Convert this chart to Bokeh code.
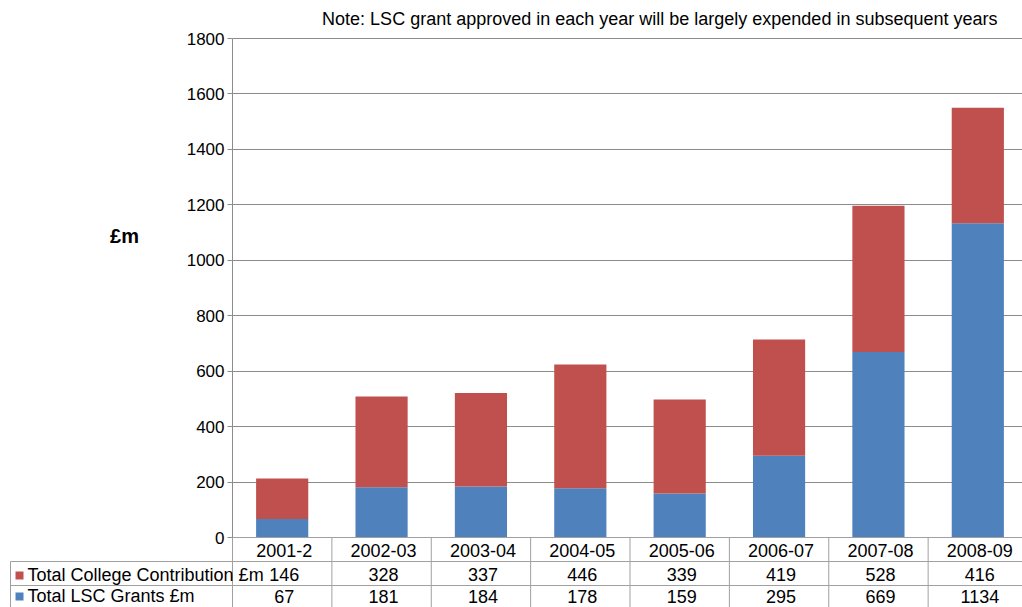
import numpy as np
from bokeh.plotting import figure
from bokeh.models import Range1d, FixedTicker, ColumnDataSource, LinearAxis, Grid
from bokeh.embed import file_html
from bokeh.resources import INLINE
from bokeh.core.properties import value

# ---- data ----
categories = ["2001-2", "2002-03", "2003-04", "2004-05", "2005-06", "2006-07", "2007-08", "2008-09"]
college = [146, 328, 337, 446, 339, 419, 528, 416]
lsc = [67, 181, 184, 178, 159, 295, 669, 1134]
series_names = ["Total College Contribution \u00a3m", "Total LSC Grants \u00a3m"]
y_ticks = [0, 200, 400, 600, 800, 1000, 1200, 1400, 1600, 1800]
note_text = "Note: LSC grant approved in each year will be largely expended in subsequent years"
y_title = "\u00a3m"

# ---- style / layout (pixels) ----
FONT = "Liberation Sans"
BLUE = "#4F81BD"
RED = "#C0504D"
GRID = "#8c8c8c"
TABLE = "#a0a0a0"

W, H = 1022, 607
PLOT_L, PLOT_R = 232, 1027
PLOT_T, PLOT_B = 38, 537
n = len(categories)
cat_w = (PLOT_R - PLOT_L) / n
y_max = y_ticks[-1]
upp = y_max / (PLOT_B - PLOT_T)


def px2x(px):
    return (px - PLOT_L) / cat_w


def py2y(py):
    return (PLOT_B - py) * upp


p = figure(width=W, height=H, x_range=Range1d(px2x(0), px2x(W)),
           y_range=Range1d(py2y(H), py2y(0)),
           output_backend="svg", toolbar_location=None,
           x_axis_type=None, y_axis_type=None, min_border=0)
p.background_fill_color = "white"
p.border_fill_color = "white"
p.outline_line_color = None

yax = LinearAxis(fixed_location=0, bounds=(0, y_max), ticker=FixedTicker(ticks=y_ticks))
yax.axis_line_color = GRID
yax.major_tick_line_color = GRID
yax.major_tick_out = 5
yax.major_tick_in = 0
yax.minor_tick_line_color = None
yax.major_label_text_font = FONT
yax.major_label_text_font_size = "17px"
yax.major_label_text_color = "black"
yax.major_label_standoff = 3
p.add_layout(yax, "left")

grid = Grid(dimension=1, ticker=FixedTicker(ticks=y_ticks), bounds=(0, y_max),
            cross_bounds=(0, n), grid_line_color=GRID, grid_line_width=1)
p.add_layout(grid)

xc = [i + 0.5 for i in range(n)]
src = ColumnDataSource(dict(x=xc, lsc=lsc, college=college))
p.vbar_stack(["lsc", "college"], x="x", width=0.525, fill_color=[BLUE, RED],
             line_color=None, source=src)

tf = dict(text_font=value(FONT), text_color="black", text_baseline="middle")

# note and unit label
p.text(x=[px2x(997)], y=[py2y(18)], text=[note_text], text_align="right",
       text_font_size=value("18px"), **tf)
p.text(x=[px2x(124)], y=[py2y(235)], text=[y_title], text_align="center",
       text_font_size=value("20px"), text_font_style="bold", **tf)

# ---- data table ----
bounds = np.arange(n + 1)
row1, row2 = py2y(561), py2y(585)
left_x = px2x(10)
p.segment(x0=[0], y0=[0], x1=[n], y1=[0], line_color=TABLE, line_width=1)
p.segment(x0=bounds, y0=0, x1=bounds, y1=py2y(H), line_color=TABLE, line_width=1)
p.segment(x0=[left_x], y0=[row1], x1=[left_x], y1=[py2y(H)], line_color=TABLE, line_width=1)
p.segment(x0=[left_x, left_x], y0=[row1, row2], x1=[n, n], y1=[row1, row2],
          line_color=TABLE, line_width=1)

tx = [x + 2 / cat_w for x in xc]
p.text(x=tx, y=py2y(550), text=categories, text_align="center",
       text_font_size=value("18px"), **tf)
p.text(x=tx, y=py2y(574), text=[str(v) for v in college], text_align="center",
       text_font_size=value("18px"), **tf)
p.text(x=tx, y=py2y(595.5), text=[str(v) for v in lsc], text_align="center",
       text_font_size=value("18px"), **tf)

p.scatter(x=[px2x(19)] * 2, y=[py2y(575), py2y(596)], marker="square", size=8,
          fill_color=[RED, BLUE], line_color=None)
p.text(x=[px2x(27)] * 2, y=[py2y(574), py2y(595.5)], text=series_names, text_align="left",
       text_font_size=value("18px"), **tf)

open("out.html", "w").write(file_html(p, INLINE))
